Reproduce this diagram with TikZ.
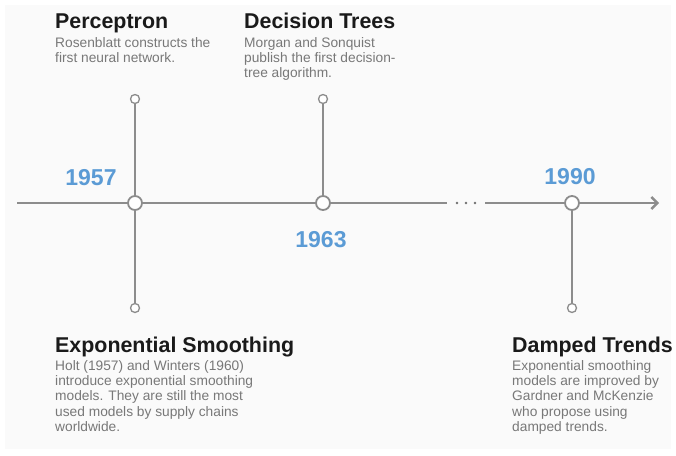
\documentclass[tikz,border=0pt]{standalone}
\usepackage{fontspec}
\setmainfont{Liberation Sans}
\usetikzlibrary{arrows.meta}
\definecolor{panel}{HTML}{FAFAFA}
\definecolor{axisgray}{HTML}{8C8C8C}
\definecolor{yearblue}{HTML}{5B9BD5}
\definecolor{headdark}{HTML}{1A1A1A}
\definecolor{bodygray}{HTML}{787878}
\tikzset{
  axisline/.style={draw=axisgray, line width=2.4pt},
  stem/.style={draw=axisgray, line width=2pt},
  bigdot/.style={circle, draw=axisgray, fill=white, line width=1.8pt, minimum size=14pt, inner sep=0pt},
  enddot/.style={circle, draw=axisgray, fill=white, line width=1.3pt, minimum size=9pt, inner sep=0pt},
  gapdot/.style={circle, fill=axisgray!80!black, minimum size=2.6pt, inner sep=0pt},
  year/.style={font=\fontsize{23}{23}\selectfont\bfseries, text=yearblue, anchor=base, inner sep=0pt},
  heading/.style={font=\fontsize{21.4}{21.4}\selectfont\bfseries, text=headdark, anchor=base west, inner sep=0pt},
  body/.style={font=\fontsize{13.75}{15.4}\selectfont, text=bodygray, align=left, anchor=north west, inner sep=0pt},
}
\begin{document}
\begin{tikzpicture}[x=1pt, y=-1pt]
  \useasboundingbox (0,0) rectangle (676,455);
  \fill[panel] (5,5) rectangle (671,449);

  % timeline points
  \coordinate (start) at (17,203);
  \coordinate (gapL) at (447,203);
  \coordinate (gapR) at (485,203);
  \coordinate (tip) at (659,203);
  \node[bigdot] (p1957) at (135,203) {};
  \node[bigdot] (p1963) at (323,203) {};
  \node[bigdot] (p1990) at (572,203) {};
  \node[enddot] (top1957) at (135,99) {};
  \node[enddot] (bot1957) at (135,308) {};
  \node[enddot] (top1963) at (323,99) {};
  \node[enddot] (bot1990) at (572,308) {};

  % stems
  \draw[stem] (top1957) -- (p1957);
  \draw[stem] (p1957) -- (bot1957);
  \draw[stem] (top1963) -- (p1963);
  \draw[stem] (p1990) -- (bot1990);

  % axis
  \draw[axisline] (start) -- (p1957);
  \draw[axisline] (p1957) -- (p1963);
  \draw[axisline] (p1963) -- (gapL);
  \draw[axisline] (gapR) -- (p1990);
  \draw[axisline, -{Straight Barb[length=6pt, width=12pt, line width=2.4pt]}] (p1990) -- (tip);

  % ellipsis on the axis
  \node[gapdot] (g1) at (457,203) {};
  \node[gapdot] (g2) at (466,203) {};
  \node[gapdot] (g3) at (475,203) {};

  % years
  \node[year] (y1957) at (91,185) {1957};
  \node[year] (y1963) at (321,247) {1963};
  \node[year] (y1990) at (570,184) {1990};

  % event texts
  \node[heading] (hPer) at (55,28) {Perceptron};
  \node[body] (bPer) at (55,37) {Rosenblatt constructs the\\first neural network.};

  \node[heading] (hDec) at (244,28) {Decision Trees};
  \node[body] (bDec) at (244,37) {Morgan and Sonquist\\publish the first decision-\\tree algorithm.};

  \node[heading] (hExp) at (55,352) {Exponential Smoothing};
  \node[body] (bExp) at (55,360) {Holt (1957) and Winters (1960)\\introduce exponential smoothing\\models. They are still the most\\used models by supply chains\\worldwide.};

  \node[heading] (hDam) at (512,352) {Damped Trends};
  \node[body] (bDam) at (512,360) {Exponential smoothing\\models are improved by\\Gardner and McKenzie\\who propose using\\damped trends.};
\end{tikzpicture}
\end{document}
